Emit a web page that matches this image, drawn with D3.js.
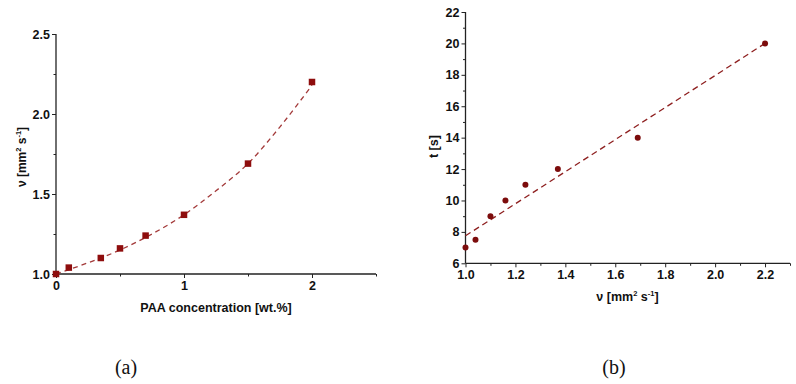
<!DOCTYPE html>
<html>
<head>
<meta charset="utf-8">
<script src="https://cdn.jsdelivr.net/npm/d3@7"></script>
<style>
  body { margin: 0; background: #fff; }
  svg text { font-family: Arial, "Liberation Sans", sans-serif; font-weight: bold; fill: #111; }
  .tick text { font-size: 12.5px; }
  .axis path, .axis line { stroke: #222; }
  .panel-label { font-family: "Liberation Serif", serif; font-weight: normal; font-size: 20px; }
</style>
</head>
<body>
<svg></svg>
<script>
const w = 796
const h = 384

// (a) viscosity vs PAA concentration
const concX = [0, 0.1, 0.35, 0.5, 0.7, 1.0, 1.5, 2.0]
const viscY = [1.0, 1.04, 1.10, 1.16, 1.24, 1.37, 1.69, 2.20]
// fitted curve
const fitAX = [0, 0.25, 0.5, 0.75, 1.0, 1.25, 1.5, 1.75, 2.0]
const fitAY = [1.0, 1.07, 1.15, 1.25, 1.37, 1.52, 1.69, 1.92, 2.18]
const ticksAX = [0, 1, 2]
const minorAX = [0.5, 1.5, 2.5]
const ticksAY = [1.0, 1.5, 2.0, 2.5]
const minorAY = [1.25, 1.75, 2.25]

// (b) time vs viscosity
const viscB = [1.0, 1.04, 1.1, 1.16, 1.24, 1.37, 1.69, 2.2]
const timeB = [7, 7.5, 9, 10, 11, 12, 14, 20]
const fitBX = [1.0, 2.2]
const fitBY = [7.75, 20]
const ticksBX = [1.0, 1.2, 1.4, 1.6, 1.8, 2.0, 2.2]
const minorBX = [1.1, 1.3, 1.5, 1.7, 1.9, 2.1, 2.3]
const ticksBY = [6, 8, 10, 12, 14, 16, 18, 20, 22]
const minorBY = [7, 9, 11, 13, 15, 17, 19, 21]

const svg = d3.select('svg')
  .attr('width', w)
  .attr('height', h);

// unit label with superscripts: ν [mm² s⁻¹]
const unitLabel = (sel) => {
  sel.append('tspan').text('ν [mm')
  sel.append('tspan').text('2').attr('font-size', '7.5px').attr('dy', -5)
  sel.append('tspan').text(' s').attr('dy', 5)
  sel.append('tspan').text('-1').attr('font-size', '7.5px').attr('dy', -5)
  sel.append('tspan').text(']').attr('dy', 5)
}

const drawAxes = (g, x, y, innerW, innerH, tx, mx, ty, my, fmtX, fmtY) => {
  // minor ticks
  g.append('g').attr('class', 'axis')
    .attr('transform', `translate(0, ${innerH})`)
    .call(d3.axisBottom(x).tickValues(mx).tickSize(2.5).tickFormat(''))
    .select('.domain').remove()
  g.append('g').attr('class', 'axis')
    .call(d3.axisLeft(y).tickValues(my).tickSize(2.5).tickFormat(''))
    .select('.domain').remove()
  // major ticks
  const xa = g.append('g').attr('class', 'axis')
    .attr('transform', `translate(0, ${innerH})`)
    .call(d3.axisBottom(x).tickValues(tx).tickSize(4).tickPadding(3).tickFormat(fmtX))
  xa.select('.domain').attr('d', `M0,0H${innerW}`).attr('stroke-width', 1.3)
  xa.selectAll('text').attr('fill', '#111')
  const ya = g.append('g').attr('class', 'axis')
    .call(d3.axisLeft(y).tickValues(ty).tickSize(4).tickPadding(2).tickFormat(fmtY))
  ya.select('.domain').attr('d', `M0,0V${innerH}`).attr('stroke-width', 1.3)
  ya.selectAll('text').attr('fill', '#111')
}

// ---------- panel (a)
{
  const margin = {left: 56, top: 34}
  const innerW = 320, innerH = 240
  const g = svg.append('g').attr('transform', `translate(${margin.left}, ${margin.top})`)
  const x = d3.scaleLinear().domain([0, 2.5]).range([0, innerW])
  const y = d3.scaleLinear().domain([1.0, 2.5]).range([innerH, 0])

  drawAxes(g, x, y, innerW, innerH, ticksAX, minorAX, ticksAY, minorAY,
    d3.format('d'), d3.format('.1f'))

  const line = d3.line()
    .x((d, i) => x(fitAX[i]))
    .y(d => y(d))
    .curve(d3.curveMonotoneX)
  g.append('path')
    .attr('d', line(fitAY))
    .attr('fill', 'none')
    .attr('stroke', '#a33a3a')
    .attr('stroke-width', 1.3)
    .attr('stroke-dasharray', '5,4')

  const s = 6.5
  g.selectAll('rect.pt').data(viscY).enter().append('rect')
    .attr('class', 'pt')
    .attr('x', (d, i) => x(concX[i]) - s / 2)
    .attr('y', d => y(d) - s / 2)
    .attr('width', s).attr('height', s)
    .attr('fill', '#8e0d0d')

  g.append('text')
    .attr('x', innerW / 2).attr('y', innerH + 38)
    .attr('text-anchor', 'middle').attr('font-size', '12.5px')
    .text('PAA concentration [wt.%]')

  g.append('text')
    .attr('transform', `translate(-30, ${innerH / 2 + 3}) rotate(-90)`)
    .attr('text-anchor', 'middle').attr('font-size', '12px')
    .call(unitLabel)

  svg.append('text').attr('class', 'panel-label')
    .attr('x', 126).attr('y', 374).attr('text-anchor', 'middle').text('(a)')
}

// ---------- panel (b)
{
  const margin = {left: 465.5, top: 12}
  const innerW = 324.5, innerH = 251.3
  const g = svg.append('g').attr('transform', `translate(${margin.left}, ${margin.top})`)
  const x = d3.scaleLinear().domain([1.0, 2.3]).range([0, innerW])
  const y = d3.scaleLinear().domain([6, 22]).range([innerH, 0])

  drawAxes(g, x, y, innerW, innerH, ticksBX, minorBX, ticksBY, minorBY,
    d3.format('.1f'), d3.format('d'))

  g.append('path')
    .attr('d', d3.line().x((d, i) => x(fitBX[i])).y(d => y(d))(fitBY))
    .attr('fill', 'none')
    .attr('stroke', '#8e1f1f')
    .attr('stroke-width', 1.3)
    .attr('stroke-dasharray', '6,4')

  g.selectAll('circle').data(timeB).enter().append('circle')
    .attr('cx', (d, i) => x(viscB[i]))
    .attr('cy', d => y(d))
    .attr('r', 3)
    .attr('fill', '#7c0c0c')

  g.append('text')
    .attr('x', 162).attr('y', innerH + 38)
    .attr('text-anchor', 'middle').attr('font-size', '12.5px')
    .call(unitLabel)

  g.append('text')
    .attr('transform', `translate(-28, ${innerH / 2 + 9}) rotate(-90)`)
    .attr('text-anchor', 'middle').attr('font-size', '12.5px')
    .text('t [s]')

  svg.append('text').attr('class', 'panel-label')
    .attr('x', 614).attr('y', 374).attr('text-anchor', 'middle').text('(b)')
}
</script>
</body>
</html>
